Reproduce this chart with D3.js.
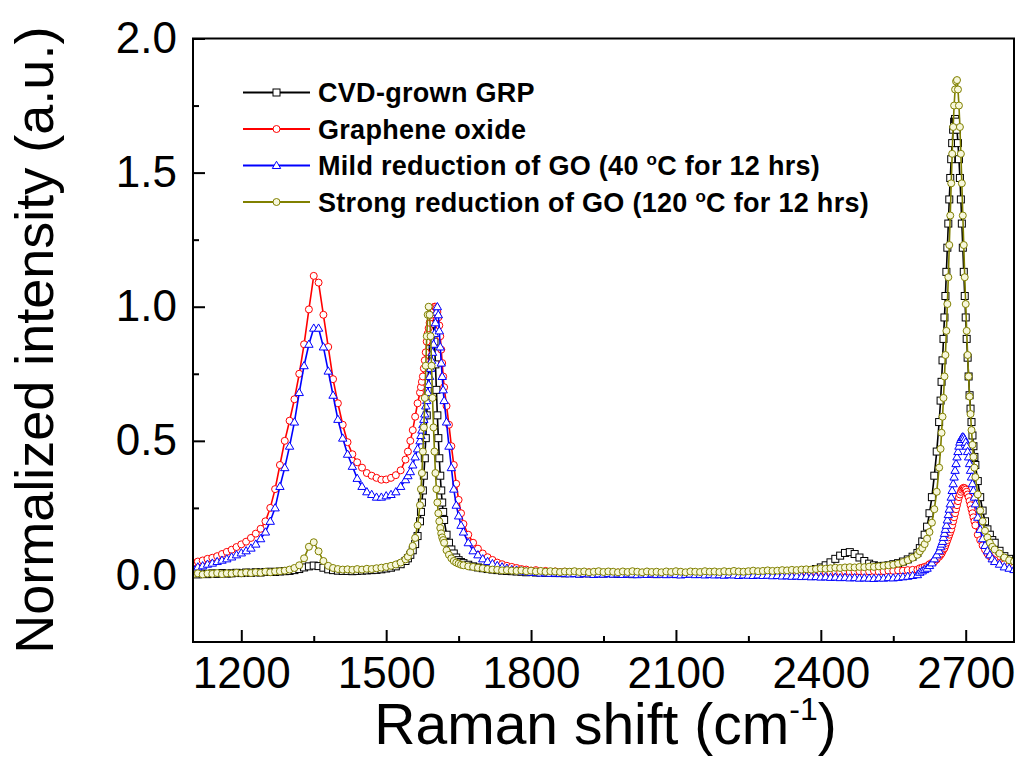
<!DOCTYPE html>
<html>
<head>
<meta charset="utf-8">
<script src="https://cdn.jsdelivr.net/npm/d3@7"></script>
<style>
  html, body { margin: 0; padding: 0; background: #fff; }
  svg { display: block; }
  text { font-family: "Liberation Sans", Arial, sans-serif; fill: #000; }
</style>
</head>
<body>
<svg id="chart" width="1021" height="773"></svg>
<script>
// ---------------- DATA ----------------
const ramanShift = [
  1100,1110,1120,1130,1140,1150,1160,1170,1180,1190,
  1200,1210,1220,1230,1240,1250,1260,1270,1280,1290,
  1300,1310,1320,1330,1340,1350,1360,1370,1380,1390,
  1400,1410,1420,1430,1440,1450,1460,1470,1480,1490,
  1500,1510,1520,1530,1540,
  1545,1550,1555,1560,1565,1570,
  1572,1574,1576,1578,1580,1582,1584,1586,1588,1590,
  1592,1594,1596,1598,1600,1602,1604,1606,1608,1610,
  1612,1614,1616,1618,1620,
  1625,1630,1635,1640,1645,1650,1655,1660,
  1670,1680,1690,1700,1710,1720,1730,1740,1750,1760,
  1770,1780,1790,1800,1810,1820,1830,1840,1850,1860,
  1870,1880,1890,1900,1910,1920,1930,1940,1950,1960,
  1970,1980,1990,2000,2010,2020,2030,2040,2050,2060,
  2070,2080,2090,2100,2110,2120,2130,2140,2150,2160,
  2170,2180,2190,2200,2210,2220,2230,2240,2250,2260,
  2270,2280,2290,2300,2310,2320,2330,2340,2350,2360,
  2370,2380,2390,2400,2410,2420,2430,2440,2450,2460,
  2470,2480,2490,2500,2510,2520,2530,2540,2550,2560,
  2570,2580,2590,2600,
  2605,2610,2615,2620,2625,2630,2635,2640,2645,
  2648,2650,2652,2654,2656,2658,2660,2662,2664,2666,
  2668,2670,2672,2674,2676,2678,2680,2682,2684,2686,
  2688,2690,2692,2694,2696,2698,2700,2702,2704,2706,
  2708,2710,2712,2714,2716,2718,2720,
  2725,2730,2735,2740,2745,2750,2755,2760,
  2770,2780,2790,2800
];

const cvdGrown = [
  0.004,0.002,0.005,0.003,0.006,0.004,0.007,0.005,0.006,0.008,
  0.007,0.009,0.008,0.010,0.009,0.011,0.012,0.011,0.013,0.014,
  0.015,0.018,0.022,0.028,0.032,0.035,0.033,0.027,0.021,0.018,
  0.016,0.015,0.015,0.014,0.015,0.016,0.017,0.018,0.019,0.021,
  0.024,0.027,0.032,0.040,0.052,
  0.062,0.075,0.092,0.115,0.145,0.200,
  0.235,0.270,0.315,0.370,0.435,0.510,0.595,0.690,0.785,0.870,
  0.935,0.985,0.985,0.935,0.870,0.785,0.690,0.595,0.510,0.435,
  0.370,0.315,0.270,0.235,0.205,
  0.150,0.120,0.095,0.080,0.065,0.055,0.048,0.044,
  0.038,0.032,0.028,0.025,0.022,0.020,0.018,0.016,0.015,0.014,
  0.013,0.012,0.010,0.011,0.009,0.010,0.008,0.009,0.007,0.008,
  0.006,0.008,0.007,0.005,0.007,0.006,0.004,0.006,0.005,0.007,
  0.005,0.004,0.006,0.005,0.003,0.005,0.006,0.004,0.005,0.003,
  0.005,0.004,0.006,0.003,0.005,0.004,0.006,0.005,0.004,0.006,
  0.005,0.007,0.004,0.006,0.005,0.007,0.006,0.005,0.007,0.008,
  0.006,0.008,0.007,0.009,0.008,0.010,0.009,0.011,0.012,0.014,
  0.016,0.018,0.022,0.028,0.036,0.047,0.060,0.072,0.082,0.085,
  0.078,0.065,0.052,0.042,0.036,0.033,0.034,0.036,0.040,0.044,
  0.050,0.058,0.068,0.082,
  0.100,0.125,0.150,0.180,0.230,0.290,0.370,0.460,0.570,
  0.650,0.720,0.800,0.880,0.960,1.040,1.130,1.220,1.310,1.400,
  1.480,1.550,1.610,1.660,1.690,1.700,1.690,1.660,1.610,1.550,
  1.480,1.400,1.310,1.220,1.130,1.040,0.960,0.880,0.810,0.740,
  0.670,0.620,0.570,0.520,0.480,0.440,0.410,
  0.350,0.290,0.240,0.200,0.170,0.150,0.130,0.120,
  0.090,0.070,0.060,0.050
];

const grapheneOxide = [
  0.045,0.050,0.054,0.060,0.064,0.070,0.078,0.086,0.094,0.104,
  0.114,0.124,0.138,0.154,0.172,0.200,0.250,0.320,0.410,0.500,
  0.575,0.655,0.750,0.860,0.990,1.115,1.090,0.970,0.850,0.730,
  0.640,0.560,0.495,0.450,0.420,0.400,0.380,0.370,0.362,0.355,
  0.356,0.362,0.372,0.390,0.430,
  0.460,0.500,0.540,0.590,0.640,0.680,
  0.700,0.720,0.740,0.770,0.800,0.830,0.870,0.900,0.920,0.940,
  0.960,0.970,0.980,0.990,1.000,1.000,0.995,0.980,0.960,0.930,
  0.890,0.840,0.790,0.740,0.700,
  0.630,0.560,0.480,0.410,0.340,0.280,0.230,0.190,
  0.150,0.120,0.098,0.080,0.066,0.056,0.046,0.040,0.034,0.030,
  0.026,0.022,0.020,0.016,0.018,0.013,0.015,0.011,0.013,0.010,
  0.012,0.008,0.011,0.009,0.006,0.010,0.007,0.009,0.005,0.008,
  0.006,0.009,0.004,0.007,0.010,0.005,0.008,0.006,0.003,0.007,
  0.005,0.008,0.004,0.007,0.009,0.004,0.006,0.008,0.005,0.007,
  0.004,0.008,0.006,0.003,0.007,0.005,0.009,0.004,0.006,0.008,
  0.005,0.007,0.004,0.008,0.006,0.009,0.005,0.007,0.008,0.006,
  0.009,0.007,0.010,0.008,0.011,0.009,0.012,0.010,0.013,0.011,
  0.012,0.014,0.011,0.013,0.015,0.012,0.014,0.016,0.015,0.017,
  0.016,0.018,0.019,0.020,
  0.025,0.027,0.030,0.033,0.040,0.045,0.050,0.058,0.068,
  0.075,0.080,0.088,0.095,0.100,0.110,0.120,0.130,0.140,0.150,
  0.160,0.170,0.185,0.200,0.215,0.230,0.245,0.260,0.275,0.290,
  0.300,0.310,0.318,0.323,0.325,0.323,0.318,0.310,0.300,0.290,
  0.275,0.260,0.245,0.230,0.215,0.200,0.185,
  0.150,0.130,0.110,0.095,0.080,0.070,0.060,0.055,
  0.045,0.040,0.035,0.030
];

const mildReduction = [
  0.025,0.030,0.034,0.040,0.044,0.050,0.055,0.060,0.067,0.075,
  0.082,0.090,0.100,0.115,0.135,0.160,0.200,0.250,0.330,0.400,
  0.480,0.570,0.680,0.780,0.860,0.920,0.920,0.850,0.760,0.670,
  0.580,0.510,0.450,0.405,0.360,0.330,0.310,0.300,0.290,0.290,
  0.295,0.300,0.310,0.330,0.355,
  0.370,0.385,0.410,0.440,0.470,0.500,
  0.520,0.540,0.560,0.580,0.600,0.630,0.650,0.680,0.710,0.740,
  0.770,0.800,0.830,0.860,0.900,0.940,0.980,1.000,0.970,0.910,
  0.850,0.790,0.740,0.690,0.650,
  0.570,0.480,0.400,0.320,0.260,0.220,0.185,0.160,
  0.120,0.090,0.075,0.060,0.050,0.042,0.035,0.030,0.025,0.020,
  0.018,0.015,0.012,0.010,0.009,0.007,0.008,0.006,0.007,0.005,
  0.006,0.004,0.005,0.003,0.005,0.004,0.002,0.004,0.003,0.005,
  0.003,0.004,0.002,0.004,0.003,0.001,0.003,0.002,0.004,0.002,
  0.003,0.001,0.003,0.002,0.000,0.002,0.003,0.001,0.002,0.000,
  0.002,0.000,0.001,-0.001,0.001,0.000,-0.002,0.000,-0.001,-0.002,
  0.000,-0.002,-0.001,-0.003,-0.002,-0.004,-0.003,-0.005,-0.004,-0.006,
  -0.005,-0.007,-0.006,-0.008,-0.007,-0.009,-0.008,-0.010,-0.009,-0.011,
  -0.010,-0.012,-0.011,-0.012,-0.013,-0.011,-0.012,-0.010,-0.011,-0.009,
  -0.007,-0.005,-0.002,0.001,
  0.010,0.015,0.020,0.025,0.035,0.045,0.060,0.075,0.090,
  0.105,0.115,0.125,0.140,0.155,0.170,0.185,0.205,0.225,0.245,
  0.265,0.290,0.315,0.340,0.365,0.390,0.415,0.440,0.460,0.480,
  0.495,0.505,0.512,0.515,0.512,0.505,0.495,0.480,0.460,0.440,
  0.415,0.390,0.365,0.340,0.315,0.290,0.265,
  0.215,0.170,0.135,0.110,0.090,0.075,0.060,0.050,
  0.040,0.030,0.025,0.020
];

const strongReduction = [
  0.003,0.006,0.002,0.005,0.004,0.007,0.003,0.006,0.005,0.008,
  0.006,0.009,0.007,0.010,0.008,0.012,0.010,0.013,0.014,0.016,
  0.020,0.026,0.036,0.062,0.105,0.122,0.088,0.052,0.034,0.026,
  0.022,0.020,0.021,0.019,0.022,0.020,0.023,0.022,0.025,0.027,
  0.030,0.034,0.039,0.046,0.058,
  0.068,0.085,0.108,0.138,0.185,0.260,
  0.320,0.380,0.460,0.550,0.660,0.780,0.890,0.970,1.000,0.970,
  0.890,0.780,0.660,0.550,0.460,0.380,0.320,0.270,0.230,0.200,
  0.175,0.155,0.140,0.130,0.120,
  0.092,0.075,0.062,0.052,0.046,0.042,0.038,0.036,
  0.032,0.030,0.027,0.025,0.022,0.020,0.019,0.017,0.018,0.016,
  0.015,0.017,0.014,0.016,0.013,0.015,0.012,0.014,0.013,0.011,
  0.013,0.012,0.014,0.011,0.013,0.010,0.012,0.014,0.011,0.013,
  0.012,0.010,0.013,0.011,0.014,0.012,0.010,0.013,0.011,0.012,
  0.010,0.013,0.011,0.014,0.012,0.010,0.013,0.012,0.011,0.014,
  0.012,0.013,0.011,0.014,0.012,0.015,0.013,0.012,0.014,0.016,
  0.014,0.015,0.017,0.015,0.016,0.018,0.017,0.019,0.018,0.020,
  0.021,0.020,0.022,0.024,0.023,0.025,0.027,0.026,0.028,0.029,
  0.028,0.030,0.029,0.031,0.030,0.032,0.034,0.036,0.038,0.042,
  0.048,0.055,0.064,0.075,
  0.088,0.100,0.115,0.135,0.160,0.195,0.245,0.310,0.400,
  0.470,0.530,0.590,0.660,0.740,0.820,0.910,1.010,1.110,1.230,
  1.340,1.460,1.570,1.670,1.750,1.810,1.840,1.845,1.810,1.750,
  1.670,1.570,1.460,1.340,1.230,1.110,1.010,0.910,0.820,0.740,
  0.665,0.600,0.540,0.485,0.440,0.400,0.365,
  0.300,0.240,0.200,0.165,0.140,0.120,0.105,0.095,
  0.080,0.065,0.055,0.050
];

const seriesNames = [
  "CVD-grown GRP",
  "Graphene oxide",
  "Mild reduction of GO (40 \u00B0C for 12 hrs)",
  "Strong reduction of GO (120 \u00B0C for 12 hrs)"
];
const seriesColors = ["#000000", "#ff0000", "#0000ff", "#808000"];
const markerShapes = ["square", "circle", "triangle", "circle"];
const markerFills = ["#ffffff", "#ffffff", "#ffffff", "#f7f7dc"];

const xTicks = [1200, 1500, 1800, 2100, 2400, 2700];
const xMinorTicks = [1350, 1650, 1950, 2250, 2550];
const yTicks = [0, 0.5, 1.0, 1.5, 2.0];
const yMinorTicks = [0.25, 0.75, 1.25, 1.75];

// ---------------- CHART ----------------
const svg = d3.select("#chart");
const L = 193, R = 1014, T = 38.5, B = 642;

const x = d3.scaleLinear().domain([1100, 2800]).range([L, R]);
const y = d3.scaleLinear().domain([-0.25, 2.0]).range([B, T]);

svg.append("defs").append("clipPath").attr("id", "plotclip")
  .append("rect").attr("x", L).attr("y", T).attr("width", R - L).attr("height", B - T);

// axes
const tickFont = "44px";
const xAxis = d3.axisBottom(x).tickValues(xTicks).tickSize(-12).tickPadding(15)
  .tickFormat(d3.format("d"));
const gx = svg.append("g").attr("transform", `translate(0,${B})`).call(xAxis);
gx.select(".domain").remove();
gx.selectAll(".tick line").attr("stroke", "#000").attr("stroke-width", 2);
gx.selectAll(".tick text").attr("font-size", tickFont)
  .attr("font-family", '"Liberation Sans", Arial, sans-serif').attr("fill", "#000");

const xMinor = d3.axisBottom(x).tickValues(xMinorTicks).tickSize(-6).tickFormat("");
const gxm = svg.append("g").attr("transform", `translate(0,${B})`).call(xMinor);
gxm.select(".domain").remove();
gxm.selectAll(".tick line").attr("stroke", "#000").attr("stroke-width", 2);

const yAxis = d3.axisLeft(y).tickValues(yTicks).tickSize(-12).tickPadding(16)
  .tickFormat(d3.format(".1f"));
const gy = svg.append("g").attr("transform", `translate(${L},0)`).call(yAxis);
gy.select(".domain").remove();
gy.selectAll(".tick line").attr("stroke", "#000").attr("stroke-width", 2);
gy.selectAll(".tick text").attr("font-size", tickFont)
  .attr("font-family", '"Liberation Sans", Arial, sans-serif').attr("fill", "#000");

const yMinor = d3.axisLeft(y).tickValues(yMinorTicks).tickSize(-6).tickFormat("");
const gym = svg.append("g").attr("transform", `translate(${L},0)`).call(yMinor);
gym.select(".domain").remove();
gym.selectAll(".tick line").attr("stroke", "#000").attr("stroke-width", 2);

// data
const allSeries = [cvdGrown, grapheneOxide, mildReduction, strongReduction];
const plot = svg.append("g").attr("clip-path", "url(#plotclip)");

function drawMarker(g, shape, cx, cy, color, fill, size) {
  if (shape === "square") {
    g.append("rect").attr("x", cx - size / 2).attr("y", cy - size / 2)
      .attr("width", size).attr("height", size)
      .attr("fill", fill).attr("stroke", color).attr("stroke-width", 1);
  } else if (shape === "circle") {
    g.append("circle").attr("cx", cx).attr("cy", cy).attr("r", size / 2)
      .attr("fill", fill).attr("stroke", color).attr("stroke-width", 1);
  } else {
    g.append("path").attr("d", d3.symbol(d3.symbolTriangle, size * size * 0.62)())
      .attr("transform", `translate(${cx},${cy + 0.6})`)
      .attr("fill", fill).attr("stroke", color).attr("stroke-width", 1);
  }
}

allSeries.forEach((vals, i) => {
  const n = Math.min(vals.length, ramanShift.length);
  if (vals.length !== ramanShift.length) console.error("length mismatch", i, vals.length, ramanShift.length);
  const pts = d3.range(n).map(k => [ramanShift[k], vals[k]]);
  const g = plot.append("g");
  g.append("path")
    .attr("d", d3.line().x(d => x(d[0])).y(d => y(d[1]))(pts))
    .attr("fill", "none").attr("stroke", seriesColors[i]).attr("stroke-width", 1.6);
  pts.forEach(p => drawMarker(g, markerShapes[i], x(p[0]), y(p[1]), seriesColors[i], markerFills[i], 7));
});

// frame
svg.append("rect").attr("x", L).attr("y", T).attr("width", R - L).attr("height", B - T)
  .attr("fill", "none").attr("stroke", "#000").attr("stroke-width", 2);

// legend
const legendX0 = 243, legendX1 = 310, legendTextX = 318;
const legendRows = [92.5, 129, 165.5, 202];
const legend = svg.append("g");
seriesNames.forEach((name, i) => {
  const ly = legendRows[i];
  legend.append("line").attr("x1", legendX0).attr("x2", legendX1).attr("y1", ly).attr("y2", ly)
    .attr("stroke", seriesColors[i]).attr("stroke-width", 2);
  drawMarker(legend, markerShapes[i], (legendX0 + legendX1) / 2, ly, seriesColors[i], markerFills[i], 7);
  const t = legend.append("text").attr("x", legendTextX).attr("y", ly + 9.5)
    .attr("font-size", "27px").attr("font-weight", "bold").attr("letter-spacing", "0.3px");
  const parts = name.split("\u00B0");
  if (parts.length === 2) {
    t.append("tspan").text(parts[0]);
    t.append("tspan").attr("font-size", "17px").attr("dy", -10).text("o");
    t.append("tspan").attr("dy", 10).text(parts[1]);
  } else {
    t.text(name);
  }
});

// axis titles
const xt = svg.append("text").attr("x", (L + R) / 2 + 2).attr("y", 744)
  .attr("text-anchor", "middle").attr("font-size", "57px");
xt.append("tspan").text("Raman shift (cm");
xt.append("tspan").attr("font-size", "32px").attr("dy", -24).text("-1");
xt.append("tspan").attr("dy", 24).text(")");

svg.append("text").attr("transform", `translate(53,${(T + B) / 2}) rotate(-90)`)
  .attr("text-anchor", "middle").attr("font-size", "54px")
  .text("Normalized intensity (a.u.)");
</script>
</body>
</html>
